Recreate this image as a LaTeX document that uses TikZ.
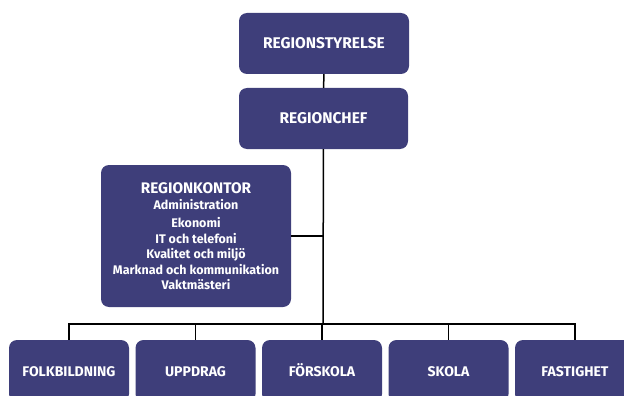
\documentclass[tikz,border=0pt]{standalone}
\usepackage{fontspec}
\setmainfont{Fira Sans}
\definecolor{orgblue}{HTML}{3E3E7A}
\begin{document}
\begin{tikzpicture}[x=1pt,y=-1pt,
    box/.style={fill=orgblue, rounded corners=8pt, text=white, font=\bfseries, align=center, inner sep=0pt},
    unit/.style={box, minimum width=120pt, minimum height=62pt, text height=10pt, text depth=0pt, font=\bfseries\fontsize{14}{15}\selectfont},
    line/.style={line width=1.5pt}]
    \clip (0,0) rectangle (624,396);
    \node[box, minimum width=170pt, minimum height=61pt, font=\bfseries\fontsize{15.5}{17}\selectfont] (styrelse) at (324,43.5) {REGIONSTYRELSE};
    \node[box, minimum width=169pt, minimum height=61pt, font=\bfseries\fontsize{15.5}{17}\selectfont] (chef) at (323.5,118.5) {REGIONCHEF};
    \node[box, minimum width=190pt, minimum height=142pt, font=\bfseries\fontsize{12.5}{15.5}\selectfont] (kontor) at (196,236)
        {{\fontsize{15.3}{17}\selectfont REGIONKONTOR}\\[1pt] Administration\\[2.5pt] Ekonomi\\ IT och telefoni\\ Kvalitet och miljö\\ Marknad och kommunikation\\ Vaktmästeri};
    \coordinate (bus) at (323,324);
    \node[unit] (folk) at (69,371) {FOLKBILDNING};
    \node[unit] (uppdrag) at (195.5,371) {UPPDRAG};
    \node[unit] (forskola) at (322,371) {FÖRSKOLA};
    \node[unit] (skola) at (448.5,371) {SKOLA};
    \node[unit] (fastighet) at (575,371) {FASTIGHET};
    \draw[line] (styrelse) -- (chef);
    \draw[line] (chef) -- (bus);
    \draw[line] (kontor) -- (kontor -| bus);
    \foreach \n in {folk,uppdrag,forskola,skola,fastighet}
        \draw[line] (bus) -| (\n);
\end{tikzpicture}
\end{document}
